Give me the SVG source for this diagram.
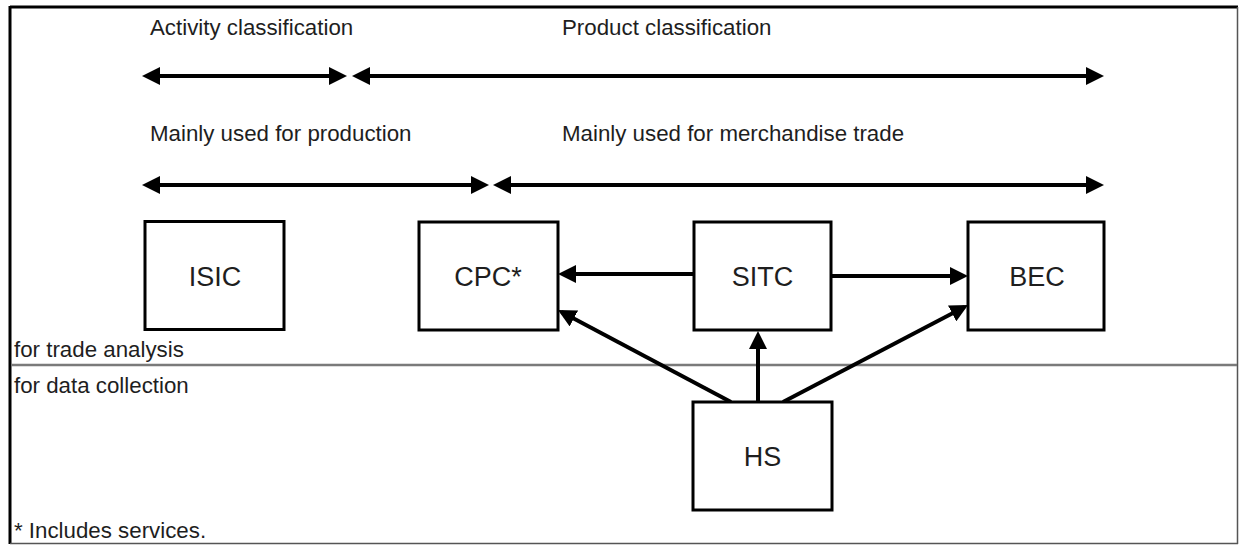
<svg xmlns="http://www.w3.org/2000/svg" width="1241" height="546" viewBox="0 0 1241 546">
  <style>
    .label { font-family: "Liberation Sans", Arial, sans-serif; font-size: 22.3px; fill: #1e1e1e; }
    .node-label { font-family: "Liberation Sans", Arial, sans-serif; font-size: 27px; fill: #1e1e1e; text-anchor: middle; }
    .box { fill: #ffffff; stroke: #000000; stroke-width: 3; }
    .arrow { fill: none; stroke: #000000; stroke-width: 4; marker-start: url(#head); marker-end: url(#head); }
    .link { fill: none; stroke: #000000; stroke-width: 4; marker-end: url(#head); }
  </style>
  <defs>
    <marker id="head" viewBox="0 0 18 18" markerWidth="18" markerHeight="18" refX="14" refY="9" orient="auto-start-reverse" markerUnits="userSpaceOnUse">
      <path d="M0,0 L18,9 L0,18 z" fill="#000000"/>
    </marker>
  </defs>

  <rect width="1241" height="546" fill="#ffffff"/>

  <!-- outer frame: heavy top/left, light right/bottom -->
  <g id="frame">
    <line x1="10" y1="7" x2="1238" y2="7" stroke="#000000" stroke-width="3"/>
    <line x1="10" y1="6" x2="10" y2="544" stroke="#000000" stroke-width="3"/>
    <line x1="1237.5" y1="7" x2="1237.5" y2="544" stroke="#555555" stroke-width="1.5"/>
    <line x1="10" y1="543.5" x2="1238" y2="543.5" stroke="#555555" stroke-width="1.5"/>
    <!-- band divider -->
    <line x1="11" y1="365" x2="1237" y2="365" stroke="#7a7a7a" stroke-width="2.5"/>
  </g>

  <!-- range labels -->
  <g id="ranges">
    <text class="label" x="150" y="35">Activity classification</text>
    <text class="label" x="562" y="35">Product classification</text>
    <text class="label" x="150" y="141">Mainly used for production</text>
    <text class="label" x="562" y="141">Mainly used for merchandise trade</text>
    <text class="label" x="14" y="357">for trade analysis</text>
    <text class="label" x="14" y="393">for data collection</text>
    <text class="label" x="14" y="538">* Includes services.</text>
  </g>

  <!-- connectors -->
  <g id="connectors">
    <line class="arrow" x1="146" y1="76" x2="343" y2="76"/>
    <line class="arrow" x1="356" y1="76" x2="1100" y2="76"/>
    <line class="arrow" x1="146" y1="185" x2="485" y2="185"/>
    <line class="arrow" x1="497" y1="185" x2="1100" y2="185"/>
    <line class="link" x1="694" y1="274" x2="562" y2="274"/>
    <line class="link" x1="831" y1="276" x2="964" y2="276"/>
    <line class="link" x1="731" y1="402" x2="561.5" y2="311.9"/>
    <line class="link" x1="758" y1="402" x2="758" y2="335"/>
    <line class="link" x1="783" y1="402" x2="964.5" y2="306.9"/>
  </g>

  <g id="isic">
    <rect class="box" x="145" y="221.5" width="139" height="108"/>
    <text class="node-label" x="215" y="286">ISIC</text>
  </g>
  <g id="cpc">
    <rect class="box" x="419" y="222" width="139" height="108"/>
    <text class="node-label" x="488" y="286">CPC*</text>
  </g>
  <g id="sitc">
    <rect class="box" x="694" y="222" width="137" height="108"/>
    <text class="node-label" x="762.5" y="286">SITC</text>
  </g>
  <g id="bec">
    <rect class="box" x="968" y="222" width="136" height="108"/>
    <text class="node-label" x="1037" y="286">BEC</text>
  </g>
  <g id="hs">
    <rect class="box" x="693" y="402" width="139" height="108"/>
    <text class="node-label" x="762.5" y="466">HS</text>
  </g>
</svg>
